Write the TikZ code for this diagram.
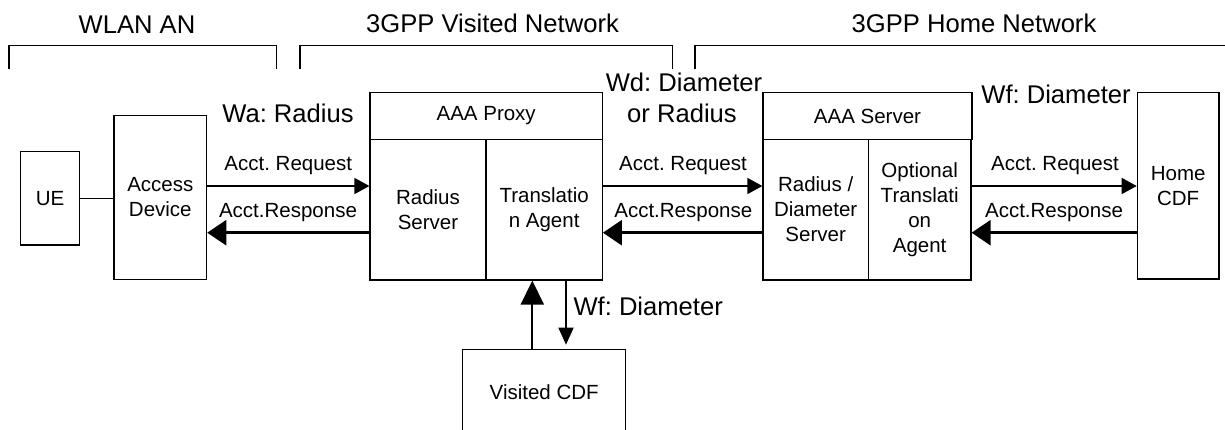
\documentclass[tikz,border=0pt]{standalone}
\usepackage{fontspec}
\setmainfont{Liberation Sans}
\usetikzlibrary{arrows.meta}
\newcommand{\txtS}{\fontsize{20.5}{25}\selectfont}
\newcommand{\txtB}{\fontsize{25.6}{31}\selectfont}
\frenchspacing
\begin{document}
\begin{tikzpicture}[x=1pt,y=-1pt,
  box/.style={draw, line width=1.2pt, inner sep=0pt, align=center, font=\txtS},
  lblS/.style={inner sep=0pt, font=\txtS},
  lblB/.style={inner sep=0pt, font=\txtB},
  req/.style={line width=1.5pt, -{Triangle[length=15pt,width=16pt]}},
  resp/.style={line width=2.5pt, -{Triangle[length=19pt,width=25pt]}},
  upar/.style={line width=2pt, -{Triangle[length=24pt,width=23pt]}},
  dnar/.style={line width=1.5pt, -{Triangle[length=17pt,width=15pt]}, shorten >=4pt},
  brk/.style={line width=1.5pt},
  link/.style={line width=1.5pt}]
\useasboundingbox (0,0) rectangle (1225,429);
\fill[white] (0,0) rectangle (1225,429);
\clip (0,0) rectangle (1225,429);

% brackets
\draw[brk] (9,69) |- (276.7,45.7) -- (276.7,69);
\draw[brk] (300,69) |- (672.7,45.7) -- (672.7,69);
\draw[brk] (695,69) |- (1228,45.7);

% headings
\node[lblB, anchor=base] (wlan) at (137,33) {WLAN AN};
\node[lblB, anchor=base] (vis) at (492.5,32) {3GPP Visited Network};
\node[lblB, anchor=base] (home) at (974,32) {3GPP Home Network};

% boxes
\node[box, minimum width=58.6pt, minimum height=93.3pt] (ue) at (50,198.3) {UE};
\node[box, minimum width=92.7pt, minimum height=163.6pt] (ad) at (160.3,197.5) {Access\\Device};
\node[box, minimum width=232.3pt, minimum height=47pt] (proxy) at (486.2,115.8) {AAA Proxy};
\node[box, minimum width=116pt, minimum height=140.7pt] (rs) at (428,209.65) {Radius\\Server};
\node[box, minimum width=116.3pt, minimum height=140.7pt] (ta) at (544.15,209.65) {Translatio\\n Agent};
\node[box, minimum width=209pt, minimum height=46.6pt] (srv) at (867.5,116) {AAA Server};
\node[box, minimum width=105.3pt, minimum height=140.7pt] (rd) at (815.65,209.65) {Radius /\\Diameter\\Server};
\node[box, minimum width=102.7pt, minimum height=140.7pt] (ota) at (919.65,209.65) {Optional\\Translati\\on\\Agent};
\node[box, minimum width=81.7pt, minimum height=186.3pt] (hcdf) at (1178.15,185.85) {Home\\CDF};
\node[box, minimum width=163pt, minimum height=85pt] (vcdf) at (544.2,391.8) {Visited CDF};

% interface labels
\node[lblB, anchor=base] (wa) at (288,122) {Wa: Radius};
\node[lblB, anchor=base] (wd1) at (684,91) {Wd: Diameter};
\node[lblB, anchor=base] (wd2) at (682,122) {or Radius};
\node[lblB, anchor=base] (wf1) at (1056,103) {Wf: Diameter};
\node[lblB, anchor=base west] (wf2) at (573.3,315) {Wf: Diameter};

% message labels
\node[lblS, anchor=base] (rq1) at (288.3,170) {Acct. Request};
\node[lblS, anchor=base] (rq2) at (683,170) {Acct. Request};
\node[lblS, anchor=base] (rq3) at (1055,170) {Acct. Request};
\node[lblS, anchor=base] (rp1) at (288,217) {Acct.Response};
\node[lblS, anchor=base] (rp2) at (683.3,217) {Acct.Response};
\node[lblS, anchor=base] (rp3) at (1054,217) {Acct.Response};

% rows / columns
\coordinate (rowreq) at (0,186);
\coordinate (rowresp) at (0,232.7);
\coordinate (colup) at (532.3,0);
\coordinate (coldn) at (566,0);

% connectors
\draw[link] (ue.east) -- (ad.west |- ue.east);
\draw[req] (ad.east |- rowreq) -- (rs.west |- rowreq);
\draw[resp] (rs.west |- rowresp) -- (ad.east |- rowresp);
\draw[req] (ta.east |- rowreq) -- (rd.west |- rowreq);
\draw[resp] (rd.west |- rowresp) -- (ta.east |- rowresp);
\draw[req] (ota.east |- rowreq) -- (hcdf.west |- rowreq);
\draw[resp] (hcdf.west |- rowresp) -- (ota.east |- rowresp);
\draw[upar] (vcdf.north -| colup) -- (ta.south -| colup);
\draw[dnar] (ta.south -| coldn) -- (vcdf.north -| coldn);
\end{tikzpicture}
\end{document}
